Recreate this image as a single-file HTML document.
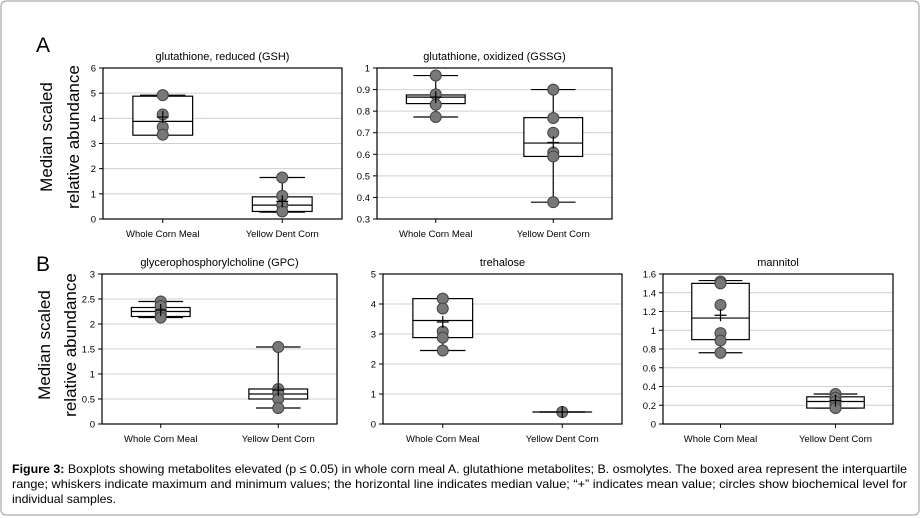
<!DOCTYPE html>
<html><head><meta charset="utf-8"><style>
html,body{margin:0;padding:0;background:#fff;width:921px;height:518px;overflow:hidden}
svg{display:block;font-family:"Liberation Sans",sans-serif}
</style></head><body>
<svg id="fig" width="921" height="518" viewBox="0 0 921 518">
<rect x="1" y="1" width="918" height="514" rx="5" fill="#fff" stroke="#aaa" stroke-width="1.2"/>
<text x="36" y="52" font-size="21">A</text>
<text x="36" y="271" font-size="21">B</text>
<text transform="translate(52,137) rotate(-90)" text-anchor="middle" font-size="17">Median scaled</text>
<text transform="translate(79,137) rotate(-90)" text-anchor="middle" font-size="17">relative abundance</text>
<text transform="translate(50,345) rotate(-90)" text-anchor="middle" font-size="17">Median scaled</text>
<text transform="translate(76,345) rotate(-90)" text-anchor="middle" font-size="17">relative abundance</text>
<g id="charts"></g>
<g font-size="12">
<text x="12" y="473" textLength="895" lengthAdjust="spacingAndGlyphs"><tspan font-weight="bold">Figure 3:</tspan>  Boxplots showing metabolites elevated (p ≤ 0.05) in whole corn meal A. glutathione metabolites; B. osmolytes.  The boxed area represent the interquartile</text>
<text x="12" y="488" textLength="895" lengthAdjust="spacingAndGlyphs">range; whiskers indicate maximum and minimum values; the horizontal line indicates median value; “+” indicates mean value; circles show biochemical level for</text>
<text x="12" y="503" textLength="104" lengthAdjust="spacingAndGlyphs">individual samples.</text>
</g>
</svg>
<script>
const categories = ["Whole Corn Meal", "Yellow Dent Corn"];
const titles = ["glutathione, reduced (GSH)", "glutathione, oxidized (GSSG)", "glycerophosphorylcholine (GPC)", "trehalose", "mannitol"];
const yMin = [0, 0.3, 0, 0, 0];
const yMax = [6, 1, 3, 5, 1.6];
const tickLabels = [["0","1","2","3","4","5","6"],["0.3","0.4","0.5","0.6","0.7","0.8","0.9","1"],["0","0.5","1","1.5","2","2.5","3"],["0","1","2","3","4","5"],["0","0.2","0.4","0.6","0.8","1","1.2","1.4","1.6"]];
// [min, q1, median, q3, max, mean] per panel per category
const stats_gsh = [[3.35,3.33,3.88,4.88,4.92,4.05],[0.27,0.3,0.55,0.88,1.65,0.7]];
const stats_gssg = [[0.773,0.835,0.865,0.875,0.965,0.865],[0.378,0.59,0.652,0.77,0.9,0.655]];
const stats_gpc = [[2.13,2.15,2.25,2.33,2.45,2.28],[0.32,0.5,0.6,0.7,1.54,0.68]];
const stats_tre = [[2.45,2.88,3.45,4.18,4.18,3.4],[0.4,0.4,0.4,0.4,0.4,0.4]];
const stats_man = [[0.76,0.9,1.13,1.5,1.53,1.16],[0.17,0.17,0.24,0.29,0.32,0.25]];
const points_gsh = [[4.92,4.15,3.65,3.35],[1.65,0.92,0.55,0.3]];
const points_gssg = [[0.965,0.878,0.83,0.773],[0.9,0.768,0.70,0.608,0.59,0.378]];
const points_gpc = [[2.45,2.36,2.2,2.13],[1.54,0.7,0.62,0.5,0.32]];
const points_tre = [[4.18,3.85,3.08,2.88,2.45],[0.4]];
const points_man = [[1.52,1.5,1.27,0.97,0.89,0.76],[0.32,0.28,0.24,0.2,0.17]];
const allStats = [stats_gsh, stats_gssg, stats_gpc, stats_tre, stats_man];
const allPoints = [points_gsh, points_gssg, points_gpc, points_tre, points_man];
const panelNames = ["gsh","gssg","gpc","trehalose","mannitol"];
const boxes = [[103,68,342,219],[377,68,612,219],[102,274,337,424],[383,274,622,424],[663,274,893,424]];

const NS = "http://www.w3.org/2000/svg";
const root = document.getElementById("charts");
function mk(tag, attrs, parent){ const e=document.createElementNS(NS,tag); for(const k in attrs) e.setAttribute(k,attrs[k]); parent.appendChild(e); return e; }

for (let p=0;p<5;p++){
  const [L,T,R,B] = boxes[p];
  const g = mk("g",{},root);
  
  
  const y = v => B - (v - yMin[p])/(yMax[p]-yMin[p])*(B-T);
  const x = i => L + (R-L)*(0.25 + 0.5*i);
  const bw = (R-L)*0.25, cw = (R-L)*0.19;
  const ticks = tickLabels[p];
  ticks.forEach(t=>{
    const yy = y(parseFloat(t));
    if (yy>T+0.5 && yy<B-0.5){
      const gl = mk("line",{x1:L,x2:R,y1:yy,y2:yy,stroke:"#d9cccc","stroke-width":1},g);
      
      
    }
    mk("line",{x1:L-4,x2:L,y1:yy,y2:yy,stroke:"#000"},g);
    const tl = mk("text",{x:L-7,y:yy+3.5,"font-size":9.5,"text-anchor":"end"},g);
    tl.textContent = t;
    
    
  });
  const frame = mk("rect",{x:L,y:T,width:R-L,height:B-T,fill:"none",stroke:"#000","stroke-width":1.2},g);
  
  
  const tt = mk("text",{x:(L+R)/2,y:T-8,"font-size":11,"text-anchor":"middle"},g);
  tt.textContent = titles[p];
  
  
  categories.forEach((c,i)=>{
    const cx = x(i);
    mk("line",{x1:cx,x2:cx,y1:B,y2:B+4,stroke:"#000"},g);
    const cl = mk("text",{x:cx,y:B+18,"font-size":9.5,"text-anchor":"middle"},g);
    cl.textContent = c;
    
    
    const s = allStats[p][i];
    const bg = mk("g",{stroke:"#000","stroke-width":1.2,fill:"none"},g);
    
    
    mk("line",{x1:cx,x2:cx,y1:y(s[0]),y2:y(s[4])},bg);
    mk("line",{x1:cx-cw/2,x2:cx+cw/2,y1:y(s[0]),y2:y(s[0])},bg);
    mk("line",{x1:cx-cw/2,x2:cx+cw/2,y1:y(s[4]),y2:y(s[4])},bg);
    mk("rect",{x:cx-bw/2,y:y(s[3]),width:bw,height:Math.max(0,y(s[1])-y(s[3])),fill:"#fff"},bg);
    mk("line",{x1:cx-bw/2,x2:cx+bw/2,y1:y(s[2]),y2:y(s[2])},bg);
    allPoints[p][i].forEach(v=>{
      const c2 = mk("circle",{cx:cx,cy:y(v),r:5.5,fill:"#787878",stroke:"#444","stroke-width":1},g);
      
      
    });
    const m = mk("path",{d:`M${cx-6},${y(s[5])}H${cx+6}M${cx},${y(s[5])-6}V${y(s[5])+6}`,stroke:"#000","stroke-width":1.2},g);
    
    
  });
}
</script>
</body></html>
